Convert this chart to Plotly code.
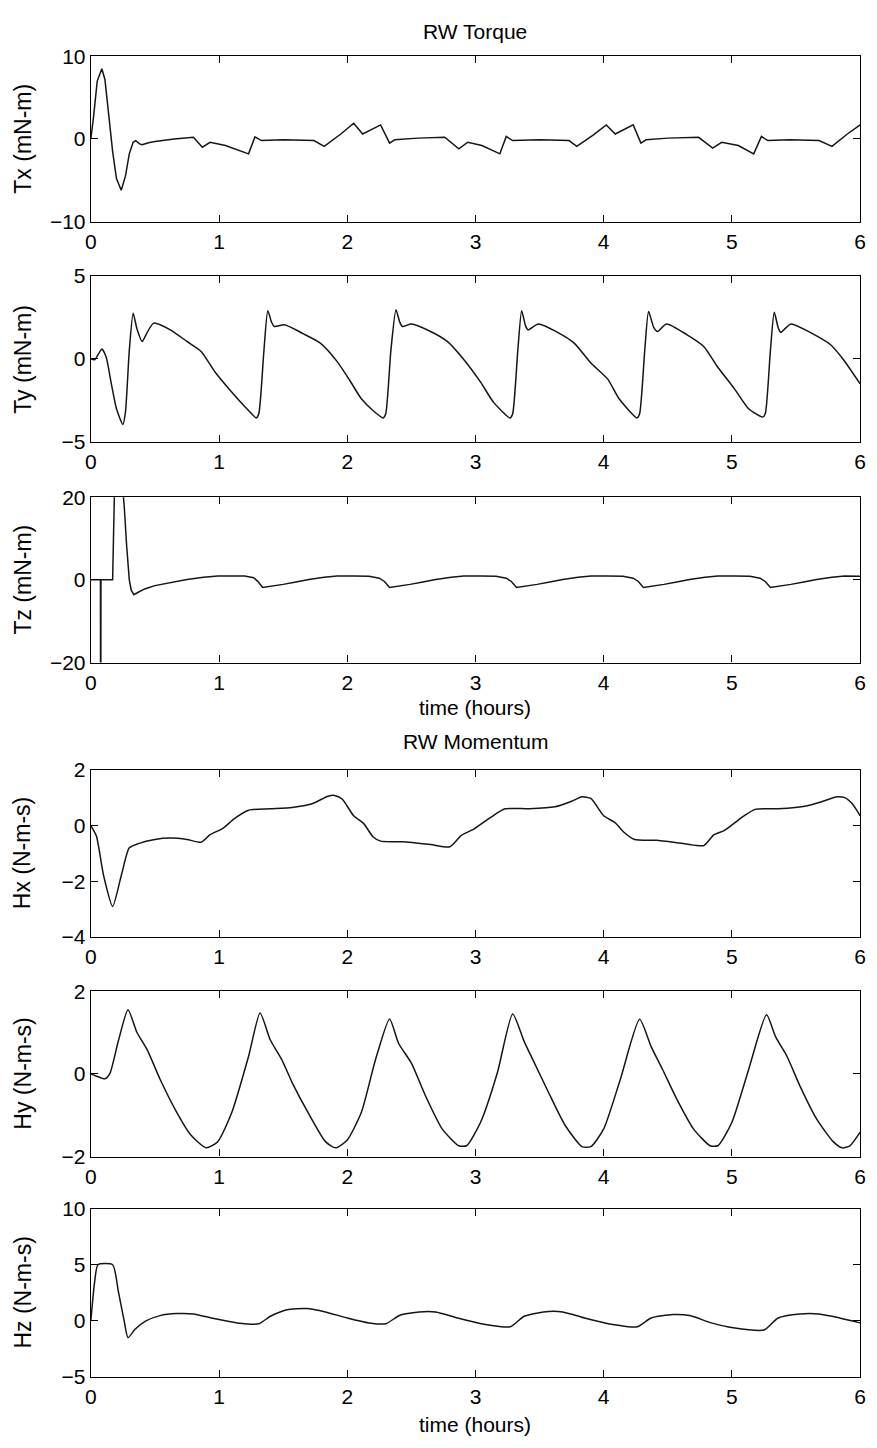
import plotly.graph_objects as go

# ---------------- data ----------------
t_tx = [0.0, 0.02, 0.05, 0.086, 0.11, 0.14, 0.17, 0.2, 0.237, 0.27, 0.30, 0.33, 0.35, 0.38,
        0.40, 0.45, 0.5, 0.65, 0.8, 0.87, 0.93, 1.05, 1.23, 1.28, 1.33, 1.5, 1.74, 1.82, 1.95,
        2.05, 2.12, 2.26, 2.33, 2.37, 2.55, 2.76, 2.87, 2.94, 3.05, 3.19, 3.24, 3.29, 3.5, 3.73,
        3.79, 3.92, 4.02, 4.09, 4.23, 4.29, 4.33, 4.5, 4.74, 4.85, 4.92, 5.05, 5.17, 5.23, 5.28,
        5.45, 5.68, 5.78, 5.9, 6.0]
tx = [0.0, 2.5, 7.0, 8.5, 7.2, 3.0, -1.5, -4.8, -6.2, -4.5, -1.8, -0.4, -0.2, -0.6,
      -0.7, -0.45, -0.3, 0.0, 0.2, -1.0, -0.4, -0.8, -1.8, 0.25, -0.2, -0.1, -0.2, -0.9, 0.6,
      1.9, 0.6, 1.7, -0.5, -0.1, 0.1, 0.2, -1.2, -0.4, -0.8, -1.8, 0.3, -0.2, -0.1, -0.2,
      -0.9, 0.5, 1.7, 0.6, 1.7, -0.5, -0.1, 0.1, 0.2, -1.1, -0.4, -0.8, -1.8, 0.3, -0.2,
      -0.1, -0.2, -0.9, 0.6, 1.7]

t_ty = [0.0, 0.03, 0.06, 0.086, 0.12, 0.16, 0.2, 0.25, 0.27, 0.30, 0.33, 0.36, 0.40, 0.44,
        0.49, 0.62, 0.75, 0.86, 0.97, 1.1, 1.23, 1.29, 1.31, 1.35, 1.38, 1.41, 1.43, 1.51,
        1.66, 1.79, 1.92, 2.02, 2.11, 2.2, 2.28, 2.30, 2.34, 2.38, 2.41, 2.43, 2.5, 2.65,
        2.78, 2.91, 3.04, 3.14, 3.27, 3.29, 3.33, 3.36, 3.39, 3.41, 3.49, 3.64, 3.77, 3.9,
        4.03, 4.12, 4.26, 4.28, 4.32, 4.35, 4.39, 4.42, 4.49, 4.65, 4.78, 4.89, 5.02, 5.13,
        5.24, 5.26, 5.30, 5.33, 5.36, 5.38, 5.46, 5.62, 5.77, 5.87, 6.0]
ty = [0.0, -0.05, 0.3, 0.6, 0.1, -1.5, -3.0, -3.95, -3.2, 0.5, 2.75, 1.8, 1.05, 1.6,
      2.15, 1.75, 1.05, 0.45, -0.8, -2.0, -3.1, -3.55, -3.3, 0.5, 2.9, 2.2, 1.95, 2.05,
      1.5, 0.95, -0.15, -1.3, -2.4, -3.1, -3.55, -3.3, 0.5, 2.95, 2.2, 1.95, 2.1, 1.65,
      1.05, -0.05, -1.4, -2.6, -3.55, -3.3, 0.5, 2.9, 2.0, 1.75, 2.1, 1.6, 0.95, -0.25,
      -1.2, -2.4, -3.55, -3.3, 0.5, 2.85, 1.9, 1.65, 2.1, 1.45, 0.75, -0.5, -1.8, -3.0,
      -3.5, -3.3, 0.5, 2.8, 1.9, 1.6, 2.1, 1.55, 0.85, -0.05, -1.5]

t_tz = [0.0, 0.075, 0.077, 0.079, 0.17, 0.19, 0.215, 0.245, 0.26, 0.28, 0.30, 0.315, 0.335,
        0.37, 0.42, 0.5, 0.62, 0.75, 0.88, 0.99, 1.1, 1.2, 1.27, 1.30, 1.34, 1.40, 1.5, 1.6,
        1.7, 1.82, 1.92, 2.05, 2.17, 2.25, 2.29, 2.33, 2.39, 2.49, 2.59, 2.69, 2.81, 2.91,
        3.04, 3.16, 3.24, 3.28, 3.32, 3.38, 3.48, 3.58, 3.68, 3.80, 3.90, 4.03, 4.15, 4.23,
        4.27, 4.31, 4.37, 4.47, 4.57, 4.67, 4.79, 4.89, 5.02, 5.14, 5.22, 5.26, 5.30, 5.36,
        5.46, 5.56, 5.66, 5.78, 5.88, 6.0]
tz = [0.0, 0.0, -60.0, 0.0, 0.0, 30.0, 34.0, 24.0, 18.0, 8.0, 0.0, -2.5, -3.6,
      -3.0, -2.2, -1.4, -0.6, 0.1, 0.6, 0.9, 0.95, 0.9, 0.5, -0.3, -1.85, -1.6, -1.1, -0.5,
      0.1, 0.6, 0.9, 0.95, 0.85, 0.4, -0.4, -1.85, -1.6, -1.1, -0.5, 0.1, 0.6, 0.9,
      0.95, 0.85, 0.4, -0.4, -1.85, -1.6, -1.1, -0.5, 0.1, 0.6, 0.9, 0.95, 0.85, 0.4,
      -0.4, -1.85, -1.6, -1.1, -0.5, 0.1, 0.6, 0.9, 0.95, 0.85, 0.4, -0.4, -1.85, -1.6,
      -1.1, -0.5, 0.1, 0.6, 0.9, 0.85]

t_hx = [0.0, 0.043, 0.10, 0.17, 0.24, 0.30, 0.37, 0.50, 0.62, 0.75, 0.86, 0.93, 1.03,
        1.12, 1.23, 1.40, 1.57, 1.72, 1.85, 1.90, 1.96, 2.05, 2.13, 2.2, 2.26, 2.43, 2.65,
        2.8, 2.89, 2.99, 3.12, 3.23, 3.42, 3.62, 3.75, 3.83, 3.9, 4.0, 4.09, 4.16, 4.24,
        4.41, 4.63, 4.78, 4.86, 4.94, 5.08, 5.18, 5.36, 5.58, 5.71, 5.82, 5.88, 5.94, 6.0]
hx = [0.0, -0.37, -1.8, -2.9, -1.75, -0.8, -0.65, -0.5, -0.45, -0.5, -0.6, -0.33, -0.1,
      0.25, 0.55, 0.6, 0.65, 0.77, 1.05, 1.08, 0.95, 0.35, 0.06, -0.4, -0.56, -0.58, -0.68,
      -0.76, -0.35, -0.12, 0.3, 0.6, 0.6, 0.67, 0.87, 1.03, 0.97, 0.35, 0.1, -0.25, -0.5,
      -0.53, -0.65, -0.72, -0.33, -0.18, 0.3, 0.58, 0.6, 0.7, 0.87, 1.03, 1.0, 0.77, 0.35]

t_hy = [0.0, 0.04, 0.11, 0.15, 0.215, 0.29, 0.36, 0.44, 0.54, 0.67, 0.78, 0.90, 0.99, 1.1,
        1.23, 1.32, 1.40, 1.49, 1.57, 1.70, 1.83, 1.91, 2.0, 2.11, 2.22, 2.33, 2.4, 2.5,
        2.61, 2.74, 2.87, 2.93, 3.04, 3.17, 3.29, 3.38, 3.46, 3.57, 3.7, 3.83, 3.9, 4.0,
        4.13, 4.28, 4.37, 4.46, 4.57, 4.70, 4.83, 4.89, 5.0, 5.13, 5.27, 5.34, 5.43, 5.53,
        5.66, 5.79, 5.86, 5.92, 6.0]
hy = [0.0, -0.05, -0.12, 0.02, 0.8, 1.55, 1.0, 0.58, -0.13, -0.93, -1.48, -1.79, -1.64,
      -0.93, 0.42, 1.47, 0.82, 0.34, -0.21, -0.97, -1.64, -1.79, -1.6, -0.93, 0.34, 1.33,
      0.74, 0.26, -0.53, -1.33, -1.74, -1.74, -1.17, 0.02, 1.45, 0.78, 0.26, -0.45, -1.25,
      -1.76, -1.76, -1.33, -0.13, 1.32, 0.66, 0.1, -0.61, -1.33, -1.74, -1.74, -1.17, 0.1,
      1.43, 0.9, 0.42, -0.29, -1.09, -1.64, -1.79, -1.74, -1.41]

t_hz = [0.0, 0.03, 0.056, 0.17, 0.215, 0.26, 0.29, 0.345, 0.43, 0.54, 0.67, 0.80, 0.97,
        1.14, 1.31, 1.40, 1.53, 1.68, 1.83, 2.0, 2.17, 2.30, 2.41, 2.56, 2.69, 2.86, 3.08,
        3.27, 3.38, 3.53, 3.68, 3.85, 4.07, 4.26, 4.37, 4.54, 4.67, 4.84, 5.01, 5.25, 5.36,
        5.53, 5.68, 5.84, 6.0]
hz = [0.0, 3.5, 5.0, 5.0, 2.6, 0.0, -1.5, -0.75, 0.0, 0.47, 0.65, 0.62, 0.18,
      -0.18, -0.26, 0.41, 1.0, 1.1, 0.8, 0.26, -0.18, -0.26, 0.5, 0.8, 0.8, 0.26, -0.32,
      -0.53, 0.41, 0.8, 0.8, 0.26, -0.32, -0.53, 0.26, 0.56, 0.47, -0.18, -0.62, -0.82, 0.26,
      0.62, 0.62, 0.26, -0.18]

y_labels = ["Tx (mN-m)", "Ty (mN-m)", "Tz (mN-m)", "Hx (N-m-s)", "Hy (N-m-s)", "Hz (N-m-s)"]
y_ranges = [[-10, 10], [-5, 5], [-20, 20], [-4, 2], [-2, 2], [-5, 10]]
y_ticks = [[-10, 0, 10], [-5, 0, 5], [-20, 0, 20], [-4, -2, 0, 2], [-2, 0, 2], [-5, 0, 5, 10]]
x_ticks = [0, 1, 2, 3, 4, 5, 6]
titles = ["RW Torque", "RW Momentum"]
x_title = "time (hours)"

series = [(t_tx, tx), (t_ty, ty), (t_tz, tz), (t_hx, hx), (t_hy, hy), (t_hz, hz)]
shapes_line = ["linear", "spline", "linear", "spline", "spline", "spline"]

# ---------------- layout geometry (pixels) ----------------
W, H = 877, 1448
left_px, right_px = 86, 866
panels_px = [(45, 213), (268, 437), (493, 661), (770, 940), (995, 1163), (1216, 1387)]

FONT = "Liberation Sans, Arial, Helvetica, sans-serif"
FS = 21

fig = go.Figure()
layout = dict(
    width=W, height=H,
    margin=dict(l=0, r=0, t=0, b=0),
    paper_bgcolor="white", plot_bgcolor="white",
    showlegend=False,
    font=dict(family=FONT, size=FS, color="black"),
)

for i, ((tt, vv), (top, bot)) in enumerate(zip(series, panels_px)):
    k = "" if i == 0 else str(i + 1)
    line = dict(color="#151515", width=1.5, shape=shapes_line[i])
    if shapes_line[i] == "spline":
        line["smoothing"] = 0.6
    fig.add_trace(go.Scatter(x=tt, y=vv, mode="lines", line=line,
                             xaxis="x" + k, yaxis="y" + k, hoverinfo="skip"))
    layout["xaxis" + k] = dict(
        domain=[left_px / W, right_px / W], range=[0, 6], anchor="y" + k,
        tickvals=x_ticks, ticks="inside", ticklen=7, tickcolor="black",
        showline=True, linecolor="black", linewidth=1.2, mirror="ticks",
        showgrid=False, zeroline=False, tickfont=dict(family=FONT, size=FS),
        ticklabelstandoff=1,
    )
    layout["yaxis" + k] = dict(
        domain=[1 - bot / H, 1 - top / H], range=y_ranges[i], anchor="x" + k,
        tickvals=y_ticks[i], ticks="inside", ticklen=7, tickcolor="black",
        showline=True, linecolor="black", linewidth=1.2, mirror="ticks",
        showgrid=False, zeroline=False, tickfont=dict(family=FONT, size=FS),
    )

annotations = []
for i, (top, bot) in enumerate(panels_px):
    annotations.append(dict(
        text=y_labels[i], textangle=-90, xref="paper", yref="paper",
        x=17 / W, y=1 - (top + bot) / 2 / H, showarrow=False,
        font=dict(family=FONT, size=23), xanchor="center", yanchor="middle"))

cx = (left_px + right_px) / 2 / W
for txt, ypx in [(titles[0], 20), (titles[1], 741), (x_title, 707), (x_title, 1435)]:
    annotations.append(dict(text=txt, xref="paper", yref="paper", x=cx, y=1 - ypx / H,
                            xanchor="center", yanchor="middle",
                            showarrow=False, font=dict(family=FONT, size=FS)))
layout["annotations"] = annotations

fig.update_layout(**layout)
fig.write_html("out.html", config={"displayModeBar": False},
               post_script="document.body.style.margin='0';document.body.style.padding='0';")
